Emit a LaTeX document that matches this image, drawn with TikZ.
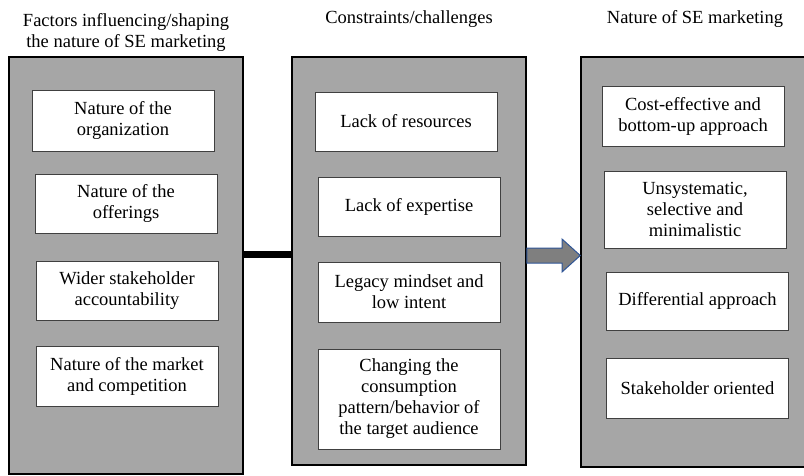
\documentclass[tikz,border=0pt]{standalone}
\usepackage{fontspec}
\setmainfont{Liberation Serif}
\definecolor{panelgray}{HTML}{A6A6A6}
\definecolor{arrowgray}{HTML}{7F7F7F}
\definecolor{arrowblue}{HTML}{2F5597}

\begin{document}
\begin{tikzpicture}[x=1pt, y=-1pt, every node/.style={font=\rmfamily\fontsize{18.5}{21}\selectfont},
	panel/.style={draw=black, line width=1.5pt, fill=panelgray, inner sep=0pt, minimum width=234pt},
	item/.style={draw=black!75, line width=0.8pt, fill=white, align=center, inner sep=0pt, minimum width=182pt},
	title/.style={align=center, inner sep=0pt}]
	\useasboundingbox (0,0) rectangle (804,475);
	% headings
	\node[title, anchor=north] (tfactors) at (126,13.5) {Factors influencing/shaping\\the nature of SE marketing};
	\node[title, anchor=base] (tconstr) at (409,23) {Constraints/challenges};
	\node[title, anchor=base] (tnature) at (695,23) {Nature of SE marketing};
	% grey columns
	\node[panel, minimum height=417pt] (factors) at (126,265.5) {};
	\node[panel, minimum height=408pt] (constr) at (409,261) {};
	\node[panel, minimum height=410pt] (nature) at (698,262) {};
	% first column
	\node[item, minimum height=61pt] (org) at (123,120.5) {Nature of the\\organization};
	\node[item, minimum height=59pt] (offer) at (126,203.5) {Nature of the\\offerings};
	\node[item, minimum height=59pt] (stake) at (127,290.5) {Wider stakeholder\\accountability};
	\node[item, minimum height=60pt] (market) at (127,376) {Nature of the market\\and competition};
	% second column
	\node[item, minimum height=59pt] (res) at (406,121.5) {Lack of resources};
	\node[item, minimum height=59pt] (exp) at (409,206.5) {Lack of expertise};
	\node[item, minimum height=60pt] (legacy) at (409,292) {Legacy mindset and\\low intent};
	\node[item, minimum height=100pt] (consum) at (409,399) {Changing the\\consumption\\pattern/behavior of\\the target audience};
	% third column
	\node[item, minimum height=60pt] (cost) at (693,116) {Cost-effective and\\bottom-up approach};
	\node[item, minimum height=77pt] (unsys) at (695,209.5) {Unsystematic,\\selective and\\minimalistic};
	\node[item, minimum height=58pt] (diff) at (697.5,301) {Differential approach};
	\node[item, minimum height=60pt] (orient) at (697.5,388) {Stakeholder oriented};
	% links between columns
	\draw[line width=7pt] (factors.east |- 0,254.5) -- (constr.west |- 0,254.5);
	\filldraw[fill=arrowgray, draw=arrowblue, line width=1pt]
		(constr.east |- 0,248) -- (562,248) -- (562,239) -- (nature.west |- 0,255.5)
		-- (562,272) -- (562,263) -- (constr.east |- 0,263) -- cycle;
\end{tikzpicture}
\end{document}
